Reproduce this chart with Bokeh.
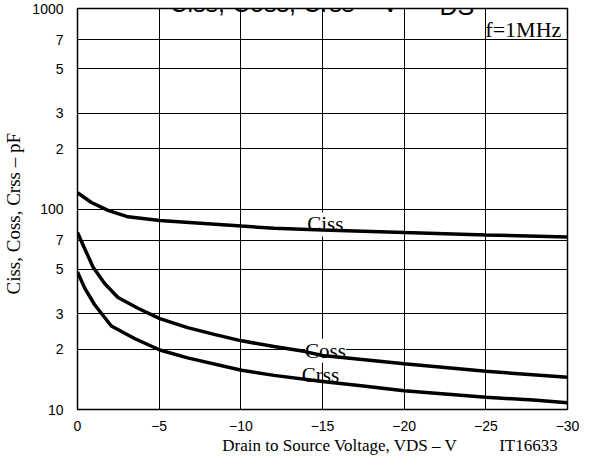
import numpy as np
from bokeh.plotting import figure
from bokeh.models import Range1d, FixedTicker, Label
from bokeh.embed import file_html
from bokeh.resources import INLINE

# ---- data ----
vds_ciss = [0, -0.85, -1.87, -3.09, -5.04, -7.97, -10.04, -12.03, -15, -20, -25, -30]
ciss = [120.7, 107.8, 98.5, 91.4, 87.7, 84.5, 82.2, 80.1, 78.6, 76.3, 74.2, 72.6]

vds_coss = [0, -0.45, -0.95, -1.66, -2.48, -3.7, -5.04, -6.74, -8.37, -10.04, -12.03, -13.86, -15, -20, -25, -30]
coss = [76.3, 63.2, 51.4, 42.5, 36.2, 32.0, 28.4, 25.6, 23.7, 22.0, 20.6, 19.5, 18.6, 16.9, 15.5, 14.5]

vds_crss = [0, -0.45, -1.05, -2.07, -3.49, -5.04, -6.74, -10.04, -12.03, -15, -17.5, -20, -25, -27.9, -30]
crss = [48.5, 40.2, 33.3, 26.1, 22.6, 19.8, 18.1, 15.7, 14.8, 13.8, 13.1, 12.4, 11.5, 11.16, 10.8]

x_ticks = [0, -5, -10, -15, -20, -25, -30]
x_tick_labels = ["0", "\u22125", "\u221210", "\u221215", "\u221220", "\u221225", "\u221230"]
y_ticks = [10, 20, 30, 50, 70, 100, 200, 300, 500, 700, 1000]
y_tick_labels = ["10", "2", "3", "5", "7", "100", "2", "3", "5", "7", "1000"]

p = figure(width=590, height=457, x_range=Range1d(0, -30), y_range=Range1d(10, 1000),
           y_axis_type="log", output_backend="svg", toolbar_location=None, title=None,
           min_border_left=75, min_border_right=23, min_border_top=8, min_border_bottom=42)
p.background_fill_color = "white"
p.border_fill_color = "white"
p.outline_line_color = "black"
p.outline_line_width = 1.5

for ax in (p.xaxis[0], p.yaxis[0]):
    ax.major_tick_line_color = None
    ax.minor_tick_line_color = None
    ax.axis_line_color = None
    ax.major_label_text_font = "Liberation Sans"
    ax.major_label_text_font_size = "14px"
    ax.major_label_text_color = "black"
    ax.axis_label_text_font = "Liberation Serif"
    ax.axis_label_text_font_style = "normal"
    ax.axis_label_text_color = "black"

p.xaxis.ticker = FixedTicker(ticks=x_ticks)
p.xaxis.major_label_overrides = dict(zip(x_ticks, x_tick_labels))
p.xaxis.major_label_standoff = 5
p.yaxis.ticker = FixedTicker(ticks=y_ticks)
p.yaxis.major_label_overrides = dict(zip(y_ticks, y_tick_labels))
p.yaxis.major_label_standoff = 8

# y axis title (native axis label)
p.yaxis.axis_label = "Ciss, Coss, Crss  \u2013  pF"
p.yaxis.axis_label_text_font_size = "19px"
p.yaxis.axis_label_standoff = 5

# x axis title (native axis label, centred; leading no-break spaces shift the
# visible text to the right as in the reference), with the figure code at its end
x_title = "\u00a0" * 34 + "Drain to Source Voltage, VDS  \u2013  V" + "\u00a0" * 10 + "IT16633"
p.xaxis.axis_label = x_title
p.xaxis.axis_label_text_font_size = "17px"
p.xaxis.axis_label_standoff = 2

p.xgrid.ticker = FixedTicker(ticks=x_ticks)
p.ygrid.ticker = FixedTicker(ticks=y_ticks)
for g in (p.xgrid[0], p.ygrid[0]):
    g.grid_line_color = "black"
    g.grid_line_alpha = 1.0
    g.grid_line_width = 1

for xs, ys in ((vds_ciss, ciss), (vds_coss, coss), (vds_crss, crss)):
    p.line(xs, ys, line_color="black", line_width=3.5)

serif = "Liberation Serif"
sans = "Liberation Sans"

def lab(x, y, text, font, size, align="left", bg=None, level="annotation"):
    l = Label(x=x, y=y, text=text, text_font=font, text_font_size=size, text_align=align,
              text_baseline="alphabetic", text_color="black", level=level)
    if bg:
        l.background_fill_color = bg
    p.add_layout(l)
    return l

# curve labels
lab(-15.17, 83.8, "Ciss", serif, "21px", align="center", bg="white", level="underlay")
lab(-15.18, 19.65, "Coss", serif, "21px", align="center", bg="white", level="underlay")
lab(-14.88, 14.8, "Crss", serif, "21px", align="center")
lab(-29.62, 788.5, "f=1MHz", serif, "22px", align="right")

# title (cut at top of page)
lab(-5.63, 1067, "Ciss,  Coss,  Crss  \u2013  V", sans, "25px")
lab(-22.16, 1031, "DS", sans, "25px")

open("out.html", "w").write(file_html(p, INLINE))
